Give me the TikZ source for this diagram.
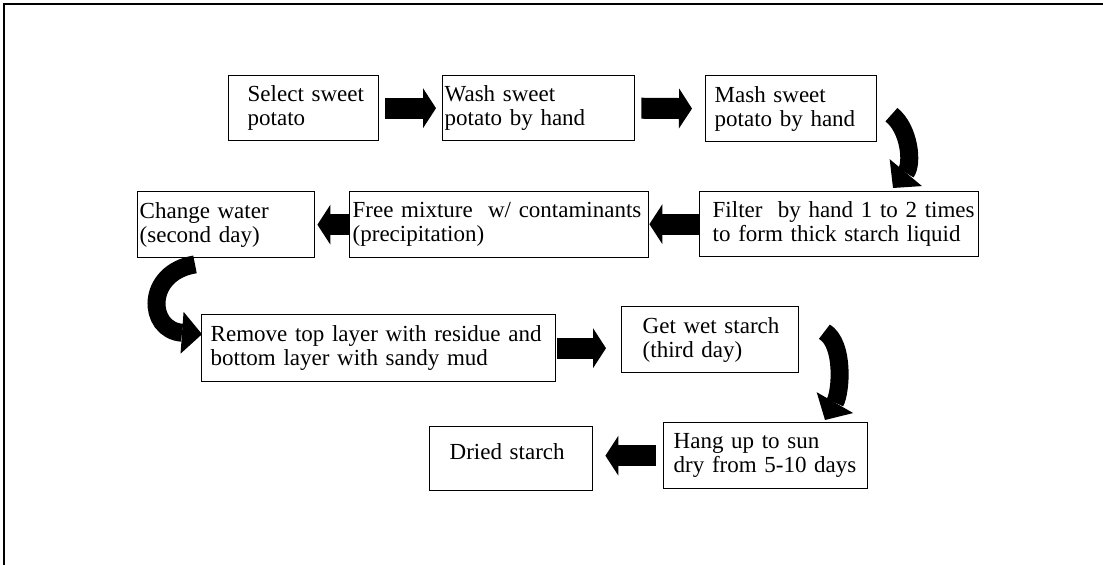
\documentclass[tikz,border=0pt]{standalone}
\usepackage{fontspec}
\setmainfont{Liberation Serif}
\usetikzlibrary{arrows.meta}
\tikzset{
  stage/.style={draw, line width=.7pt, anchor=north west, inner xsep=0pt,
    align=left, font=\fontsize{11.5pt}{12pt}\selectfont},
  pad/.style={execute at begin node={\leftskip=#1\rightskip=-2cm plus 1fil}},
  flowarrow/.style={line width=10.5pt, -{Triangle[length=6.5pt,width=20pt,line width=0pt]}},
  turnarrow/.style={line width=9pt, -{Triangle[length=10pt,width=21pt,line width=0pt]}},
}
\begin{document}
\begin{tikzpicture}[x=.5pt, y=-.5pt]
\useasboundingbox (0,0) rectangle (1103,565);
% frame
\draw[line width=1pt] (4,565) -- (4,4) -- (1103,4);

% first row
\node[stage, text width=75pt, minimum height=32.5pt, pad=9.5pt] (select) at (228,75) {Select sweet\\potato};
\node[stage, text width=96pt, minimum height=32.5pt, pad=1pt] (wash) at (442,75) {Wash sweet\\potato by hand};
\node[stage, text width=85.5pt, minimum height=33pt, pad=4.5pt] (mash) at (705,75) {Mash sweet\\potato by hand};

% second row
\node[stage, text width=139.5pt, minimum height=32.5pt, pad=6.5pt] (filter) at (699,191) {Filter\ \ by hand 1 to 2 times\\to form thick starch liquid};
\node[stage, text width=149.5pt, minimum height=33pt, pad=1.5pt] (free) at (349,191) {Free mixture\ \ w/ contaminants\\(precipitation)};
\node[stage, text width=88.5pt, minimum height=33pt, pad=1pt] (change) at (137,191) {Change water\\(second day)};

% third row
\node[stage, text width=177pt, minimum height=33.5pt, pad=4.5pt] (remove) at (201,314) {Remove top layer with residue and\\bottom layer with sandy mud};
\node[stage, text width=88.5pt, minimum height=33pt, pad=10.5pt] (getwet) at (621,306) {Get wet starch\\(third day)};

% last row
\node[stage, text width=102pt, minimum height=33pt, pad=5pt] (hang) at (663,422) {Hang up to sun\\dry from 5-10 days};
\node[stage, text width=81.5pt, minimum height=32pt, text depth=7.5pt, pad=10pt] (dried) at (429,426) {Dried starch};

% arrows
\draw[flowarrow, shorten <=3pt, shorten >=3pt] (select.east) -- (wash.west);
\draw[flowarrow, shorten <=3pt, shorten >=6.5pt] (wash.east) -- (mash.west);
\draw[turnarrow] ([shift={(14,6)}]mash.east) .. controls +(18,14) and +(20,-24) .. ([shift={(194,-3)}]filter.north west);
\draw[flowarrow] (filter.west) -- (filter.west -| free.east);
\draw[flowarrow, shorten >=1pt] (free.west) -- (change.east);
\draw[turnarrow] ([shift={(58,6)}]change.south west) .. controls +(-50,8) and +(-55,-4) .. ([shift={(1,-14)}]remove.west);
\draw[flowarrow, shorten <=.5pt, shorten >=7.5pt] (remove.east) -- (remove.east -| getwet.west);
\draw[turnarrow] ([shift={(25,-8)}]getwet.east) .. controls +(20,12) and +(16,-28) .. ([shift={(162,-2)}]hang.north west);
\draw[flowarrow, shorten <=3.5pt, shorten >=6pt] (hang.west) -- (hang.west -| dried.east);
\end{tikzpicture}
\end{document}
